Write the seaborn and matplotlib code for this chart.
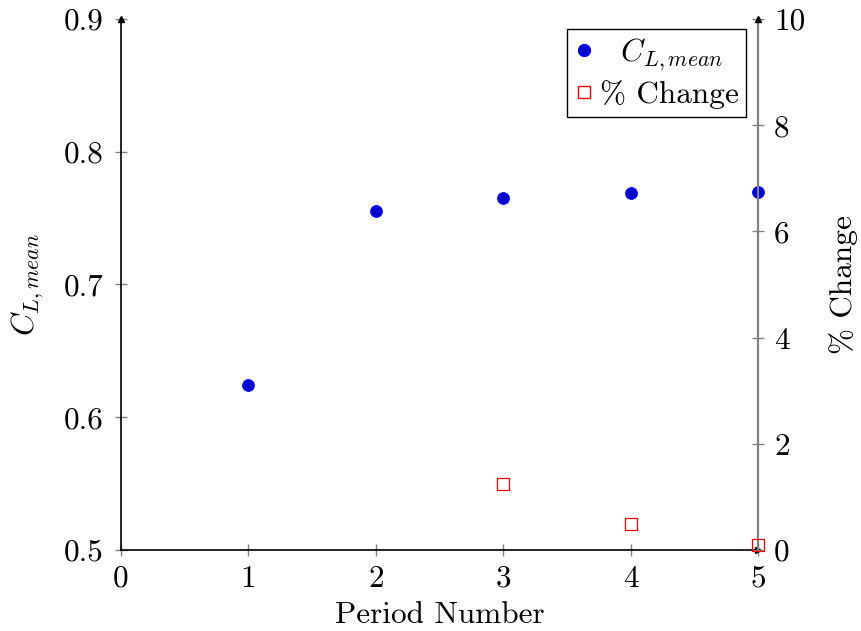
import matplotlib
matplotlib.use("Agg")
import matplotlib.pyplot as plt
from matplotlib.lines import Line2D
import seaborn as sns
import pandas as pd

# Mean lift coefficient per period, and the percent change between periods
periods = [1, 2, 3, 4, 5]
cl_mean = [0.624, 0.755, 0.765, 0.769, 0.770]
change_periods = [3, 4, 5]
pct_change = [1.25, 0.49, 0.09]

x_ticks = [0, 1, 2, 3, 4, 5]
left_ticks = [0.5, 0.6, 0.7, 0.8, 0.9]
right_ticks = [0, 2, 4, 6, 8, 10]

sns.set_style("ticks")
plt.rcParams["font.family"] = ["cmr10", "DejaVu Serif"]
plt.rcParams["mathtext.fontset"] = "cm"
plt.rcParams["axes.formatter.use_mathtext"] = True
plt.rcParams["axes.unicode_minus"] = False
for key in ("text.color", "axes.labelcolor", "xtick.labelcolor", "ytick.labelcolor"):
    plt.rcParams[key] = "black"

df_cl = pd.DataFrame({"period": periods, "cl": cl_mean})
df_pc = pd.DataFrame({"period": change_periods, "pc": pct_change})

fig = plt.figure(figsize=(8.62, 6.31), dpi=100)
ax = fig.add_axes([0.1404, 0.1284, 0.7390, 0.8415])
ax2 = ax.twinx()

fs = 22.5
sns.scatterplot(data=df_cl, x="period", y="cl", ax=ax, s=70, marker="o",
                color="#0000cc", edgecolor="#0000ff", linewidth=0.8,
                zorder=5, clip_on=False, legend=False)
sns.scatterplot(data=df_pc, x="period", y="pc", ax=ax2, s=75, marker="s",
                facecolor="none", edgecolor="#ff0000", linewidth=0.9,
                zorder=5, clip_on=False, legend=False)

ax.set_xlim(0, 5)
ax.set_ylim(0.5, 0.9)
ax2.set_ylim(0, 10)
ax.set_xticks(x_ticks)
ax.set_yticks(left_ticks)
ax2.set_yticks(right_ticks)
ax.set_xticklabels([str(v) for v in x_ticks])
ax.set_yticklabels([f"{v:.1f}" for v in left_ticks])
ax2.set_yticklabels([str(v) for v in right_ticks])

for a in (ax, ax2):
    a.spines["top"].set_visible(False)
    a.tick_params(direction="inout", length=9, width=1.0, color="#808080",
                  labelsize=fs, labelcolor="black")
ax.tick_params(axis="y", pad=8)
ax.tick_params(axis="x", pad=6)
ax2.tick_params(axis="y", pad=7)
ax.spines["right"].set_visible(False)
ax2.spines["left"].set_visible(False)
ax2.spines["bottom"].set_visible(False)
for side in ("left", "bottom"):
    ax.spines[side].set_linewidth(1.2)
    ax.spines[side].set_color("black")
ax2.spines["right"].set_color("#808080")
ax2.spines["right"].set_linewidth(1.6)

# Arrow heads at the axis ends
arrow_kw = dict(color="black", markersize=5, clip_on=False, zorder=6)
ax.plot(1, 0, marker=">", transform=ax.transAxes, **arrow_kw)
ax.plot(0, 1, marker="^", transform=ax.transAxes, **arrow_kw)
ax2.plot(1, 1, marker="^", transform=ax2.transAxes, **arrow_kw)

ax.set_xlabel("Period Number", fontsize=fs, labelpad=6)
ax.set_ylabel(r"$C_{L,mean}$", fontsize=fs, labelpad=13)
ax2.set_ylabel("% Change", fontsize=fs, labelpad=17)

handles = [
    Line2D([], [], linestyle="none", marker="o", markersize=8.5,
           markerfacecolor="#0000cc", markeredgecolor="#0000ff"),
    Line2D([], [], linestyle="none", marker="s", markersize=8,
           markerfacecolor="none", markeredgecolor="#ff0000"),
]
leg = ax2.legend(handles, [r"  $C_{L,mean}$", "% Change"], loc="upper right",
                 bbox_to_anchor=(0.9815, 0.981), fontsize=fs, frameon=True,
                 fancybox=False, edgecolor="black", framealpha=1,
                 handlelength=0.6, handletextpad=0.2, borderpad=0.25,
                 labelspacing=0.22, borderaxespad=0)
leg.get_frame().set_linewidth(1.0)

fig.savefig("out.png", dpi=100)
